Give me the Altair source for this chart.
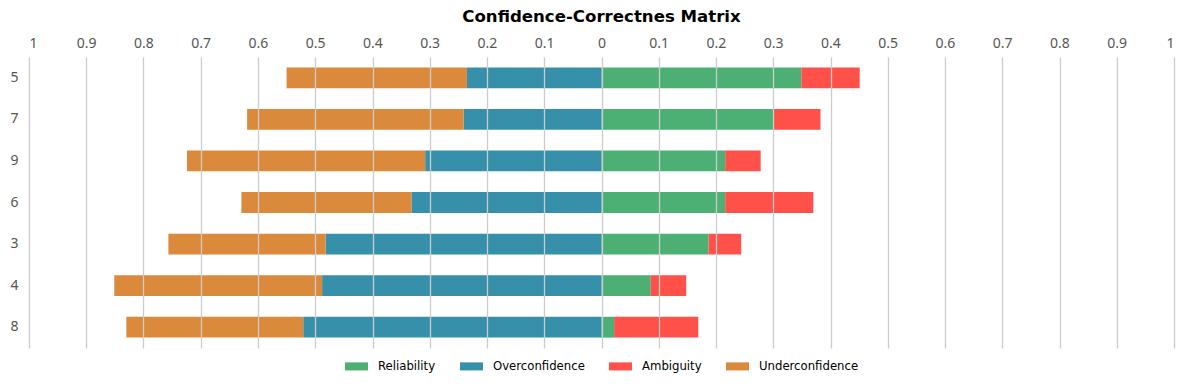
import altair as alt
import pandas as pd

categories = ["5", "7", "9", "6", "3", "4", "8"]
reliability = [0.349, 0.301, 0.216, 0.216, 0.187, 0.086, 0.022]
ambiguity = [0.102, 0.0815, 0.062, 0.154, 0.057, 0.062, 0.147]
overconfidence = [0.235, 0.241, 0.308, 0.332, 0.482, 0.488, 0.521]
underconfidence = [0.315, 0.378, 0.416, 0.297, 0.2745, 0.363, 0.309]

series = ["Reliability", "Overconfidence", "Ambiguity", "Underconfidence"]
colors = ["#4caf73", "#3690aa", "#ff514a", "#db893a"]

rows = []
for i, c in enumerate(categories):
    r, a, o, u = reliability[i], ambiguity[i], overconfidence[i], underconfidence[i]
    rows.append({"cat": c, "series": "Reliability", "start": 0.0, "end": r})
    rows.append({"cat": c, "series": "Ambiguity", "start": r, "end": r + a})
    rows.append({"cat": c, "series": "Overconfidence", "start": -o, "end": 0.0})
    rows.append({"cat": c, "series": "Underconfidence", "start": -o - u, "end": -o})
df = pd.DataFrame(rows)

tick_vals = [round(-1 + 0.1 * k, 1) for k in range(21)]

chart = alt.Chart(df).mark_bar().encode(
    x=alt.X(
        "start:Q",
        scale=alt.Scale(domain=[-1, 1], nice=False, zero=False),
        axis=alt.Axis(
            orient="top",
            values=tick_vals,
            labelExpr="format(abs(datum.value), '~g')",
            title=None,
            grid=True,
            gridColor="#cccccc",
            gridWidth=1.3,
            domain=False,
            ticks=False,
            labelPadding=7,
            labelFont="Noto Sans",
            labelFontSize=14,
            labelColor="#555555",
            zindex=1,
        ),
    ),
    x2="end:Q",
    y=alt.Y(
        "cat:N",
        sort=categories,
        scale=alt.Scale(paddingInner=0.5, paddingOuter=0.25),
        axis=alt.Axis(
            title=None,
            domain=False,
            ticks=False,
            grid=False,
            labelPadding=11,
            labelFont="Noto Sans",
            labelFontSize=14,
            labelColor="#555555",
        ),
    ),
    color=alt.Color(
        "series:N",
        scale=alt.Scale(domain=series, range=colors),
        legend=alt.Legend(
            title=None,
            orient="none",
            legendX=316,
            legendY=297.5,
            direction="horizontal",
            symbolType="M-1,-0.35L1,-0.35L1,0.35L-1,0.35Z",
            symbolSize=529,
            symbolStrokeWidth=0,
            labelFont="DejaVu Sans",
            labelFontSize=11.7,
            labelColor="#000000",
            columnPadding=24,
            labelOffset=10,
        ),
    ),
).properties(
    width=1145,
    height=291,
    title=alt.Title(
        "Confidence-Correctnes Matrix",
        font="DejaVu Sans",
        fontSize=16.6,
        fontWeight="bold",
        color="#000000",
        anchor="middle",
        offset=10,
    ),
    autosize=alt.AutoSizeParams(type="none"),
    padding={"left": 29, "top": 57, "right": 15, "bottom": 40},
).configure_view(stroke=None)

chart.save("out.html", embed_options={"renderer": "svg", "actions": False})
